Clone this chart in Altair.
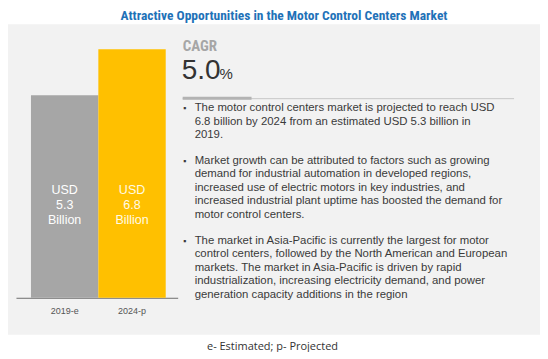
import altair as alt
import pandas as pd

# ---- data ----
years = ["2019-e", "2024-p"]
values = [5.3, 6.8]
bar_colors = ["#a6a6a6", "#ffc000"]
bar_text_colors = ["#ffffff", "#fffbe6"]
bar_labels = ["USD\n5.3\nBillion", "USD\n6.8\nBillion"]

title_text = "Attractive Opportunities in the Motor Control Centers Market"
cagr_label = "CAGR"
cagr_value = "5.0"
cagr_unit = "%"
footnote = "e- Estimated; p- Projected"

bullet1 = [
    "The motor control centers market is projected to reach USD",
    "6.8 billion by 2024 from an estimated USD 5.3 billion in",
    "2019.",
]
bullet2 = [
    "Market growth can be attributed to factors such as growing",
    "demand for industrial automation in developed regions,",
    "increased use of electric motors in key industries, and",
    "increased industrial plant uptime has boosted the demand for",
    "motor control centers.",
]
bullet3 = [
    "The market in Asia-Pacific is currently the largest for motor",
    "control centers, followed by the North American and European",
    "markets. The market in Asia-Pacific is driven by rapid",
    "industrialization, increasing electricity demand, and power",
    "generation capacity additions in the region",
]

W, H = 533, 311
BASE = -1.32
body_font = "Liberation Sans, Arial, sans-serif"
narrow_font = "Liberation Sans Narrow, Roboto Condensed, DejaVu Sans Condensed, Arial Narrow, sans-serif"

bars_df = pd.DataFrame({"year": years, "value": values, "color": bar_colors,
                        "tcolor": bar_text_colors, "label": bar_labels})

xenc = alt.X("year:N", sort=None,
             scale=alt.Scale(range=[8, 170], paddingInner=0, paddingOuter=0.2, align=0.556),
             axis=alt.Axis(title=None, orient="bottom", offset=-37, ticks=False, tickSize=0,
                           labelPadding=9, labelFont=body_font, labelFontSize=9,
                           labelColor="#555555", domainColor="#6e6e6e", domainWidth=1,
                           labelAngle=0))

bars = alt.Chart(bars_df).mark_bar().encode(
    x=xenc,
    y=alt.Y("value:Q", scale=alt.Scale(domain=[BASE, 6.8], range=[274, 25]), axis=None),
    y2=alt.datum(BASE),
    color=alt.Color("color:N", scale=None),
)

bar_text = alt.Chart(bars_df).mark_text(
    lineBreak="\n", lineHeight=15, fontSize=12.5, font=body_font, baseline="middle", align="center"
).encode(
    x=alt.X("year:N", sort=None),
    y=alt.value(166),
    text="label:N",
    color=alt.Color("tcolor:N", scale=None),
)

one = pd.DataFrame({"k": [0]})

cagr_t = alt.Chart(one).mark_text(
    text=cagr_label, font=narrow_font, fontWeight="bold", fontSize=15, color="#a6a6a6",
    align="left", baseline="middle"
).encode(x=alt.value(175), y=alt.value(22))

cagr_v = alt.Chart(one).mark_text(
    text=cagr_value, font=body_font, fontSize=28, color="#333333",
    align="left", baseline="alphabetic"
).encode(x=alt.value(174), y=alt.value(55))

cagr_u = alt.Chart(one).mark_text(
    text=cagr_unit, font=body_font, fontSize=15, color="#333333",
    align="left", baseline="alphabetic"
).encode(x=alt.value(212), y=alt.value(55))

sep_thin = alt.Chart(one).mark_rule(color="#c9c9c9", strokeWidth=1).encode(
    x=alt.value(175), x2=alt.value(507), y=alt.value(74.5))
sep_thick = alt.Chart(one).mark_rule(color="#b3b3b3", strokeWidth=3).encode(
    x=alt.value(175), x2=alt.value(244), y=alt.value(74))

layers = [bars, bar_text, cagr_t, cagr_v, cagr_u, sep_thin, sep_thick]

for lines, ytop in [(bullet1, 84), (bullet2, 137), (bullet3, 217)]:
    df = pd.DataFrame({"t": ["\n".join(lines)]})
    layers.append(alt.Chart(df).mark_text(
        lineBreak="\n", lineHeight=13.5, font=body_font, fontSize=11.4, color="#3a3a3a",
        align="left", baseline="middle"
    ).encode(x=alt.value(187), y=alt.value(ytop), text="t:N"))
    layers.append(alt.Chart(one).mark_text(
        text="\u25aa", font=body_font, fontSize=9, color="#3a3a3a",
        align="center", baseline="middle"
    ).encode(x=alt.value(177), y=alt.value(ytop)))

foot = alt.Chart(one).mark_text(
    text=footnote, font="Open Sans, sans-serif", fontSize=11, color="#333333",
    align="center", baseline="middle"
).encode(x=alt.value(265), y=alt.value(323))
layers.append(foot)

chart = alt.layer(*layers).properties(
    width=W, height=H,
    padding={"top": 0, "left": 0, "right": 0, "bottom": 0},
    title=alt.TitleParams(title_text, font=narrow_font, fontWeight="bold", fontSize=13.5,
                          color="#1f72b8", anchor="middle", dx=10, offset=2, baseline="top"),
).configure_view(fill="#f2f2f2", strokeWidth=0)

chart.save("out.html", embed_options={"renderer": "svg", "actions": False})
